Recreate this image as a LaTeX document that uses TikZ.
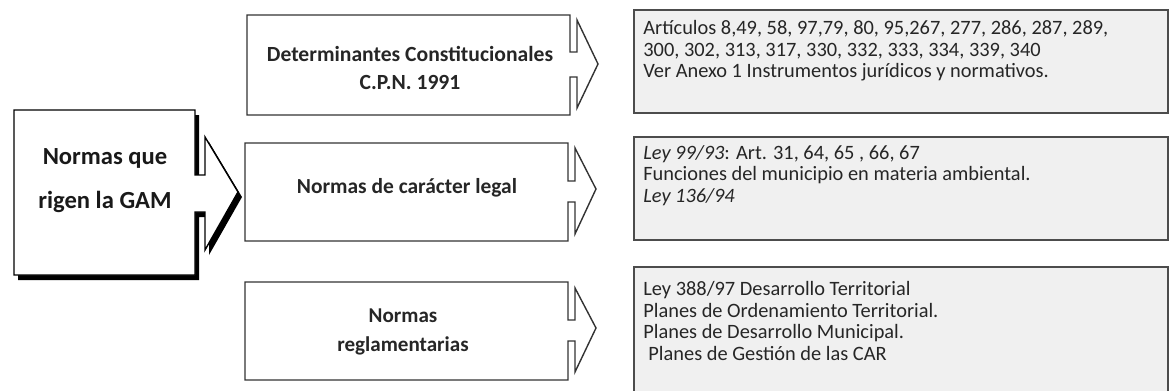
\documentclass[tikz,border=0pt]{standalone}
\usepackage{fontspec}
\setmainfont{Carlito}
\begin{document}
\begin{tikzpicture}[x=0.2mm,y=-0.2mm,
  arrowbox/.style={draw=black!80,fill=white,line width=0.8pt,line join=miter},
  notebox/.style={draw=black!70,fill=black!6,line width=0.9pt},
  bigtxt/.style={font=\bfseries\fontsize{14}{25}\selectfont,align=center,text=black!90},
  midtxt/.style={font=\bfseries\fontsize{12.2}{15.5}\selectfont,align=center,text=black!85},
  notetxt/.style={font=\fontsize{11.6}{12.35}\selectfont,align=left,anchor=north west,inner sep=0pt,text=black!85}]
\useasboundingbox (0,0) rectangle (1170,390);
% left box with shadow
\fill[black] (18,115) -- (199,115) -- (199,180) -- (209,180) -- (209,142) -- (242,197) -- (209,255) -- (209,217) -- (199,217) -- (199,280) -- (18,280) -- cycle;
\draw[arrowbox,draw=black] (14,110) -- (195,110) -- (195,175) -- (205,175) -- (205,137) -- (238,192) -- (205,250) -- (205,212) -- (195,212) -- (195,275) -- (14,275) -- cycle;
\node[bigtxt] (gam) at (105,181) {Normas que\\rigen la GAM};
% middle boxes
\draw[arrowbox] (247,15) -- (570,15) -- (570,52) -- (577,52) -- (577,20) -- (598,64) -- (577,108) -- (577,77) -- (570,77) -- (570,115) -- (247,115) -- cycle;
\node[midtxt,font=\bfseries\fontsize{12.3}{15.5}\selectfont] (dcon) at (410,68) {Determinantes Constitucionales\\C.P.N. 1991};
\draw[arrowbox] (245,143) -- (568,143) -- (568,181) -- (575,181) -- (575,148) -- (596,189) -- (575,234) -- (575,202) -- (568,202) -- (568,241) -- (245,241) -- cycle;
\node[midtxt] (nleg) at (407,188) {Normas de carácter legal};
\draw[arrowbox] (245,282) -- (568,282) -- (568,320) -- (575,320) -- (575,288) -- (596,328) -- (575,372) -- (575,341) -- (568,341) -- (568,380) -- (245,380) -- cycle;
\node[midtxt,font=\bfseries\fontsize{12}{16.5}\selectfont] (nreg) at (403,332) {Normas\\reglamentarias};
% right boxes
\draw[notebox] (634,10) rectangle (1168,113);
\node[notetxt] (arts) at (643,20) {Artículos 8,49, 58, 97,79, 80, 95,267, 277, 286, 287, 289,\\300, 302, 313, 317, 330, 332, 333, 334, 339, 340\\Ver Anexo 1 Instrumentos jurídicos y normativos.};
\draw[notebox] (634,137) rectangle (1168,240);
\node[notetxt] (leyes) at (643,145) {\textit{Ley 99/93}: Art. 31, 64, 65 , 66, 67\\Funciones del municipio en materia ambiental.\\\textit{Ley 136/94}};
\draw[notebox] (634,267) rectangle (1168,395);
\node[notetxt] (planes) at (643,281) {Ley 388/97 Desarrollo Territorial\\Planes de Ordenamiento Territorial.\\Planes de Desarrollo Municipal.\\\hspace{0.25em}Planes de Gestión de las CAR};
\end{tikzpicture}
\end{document}
